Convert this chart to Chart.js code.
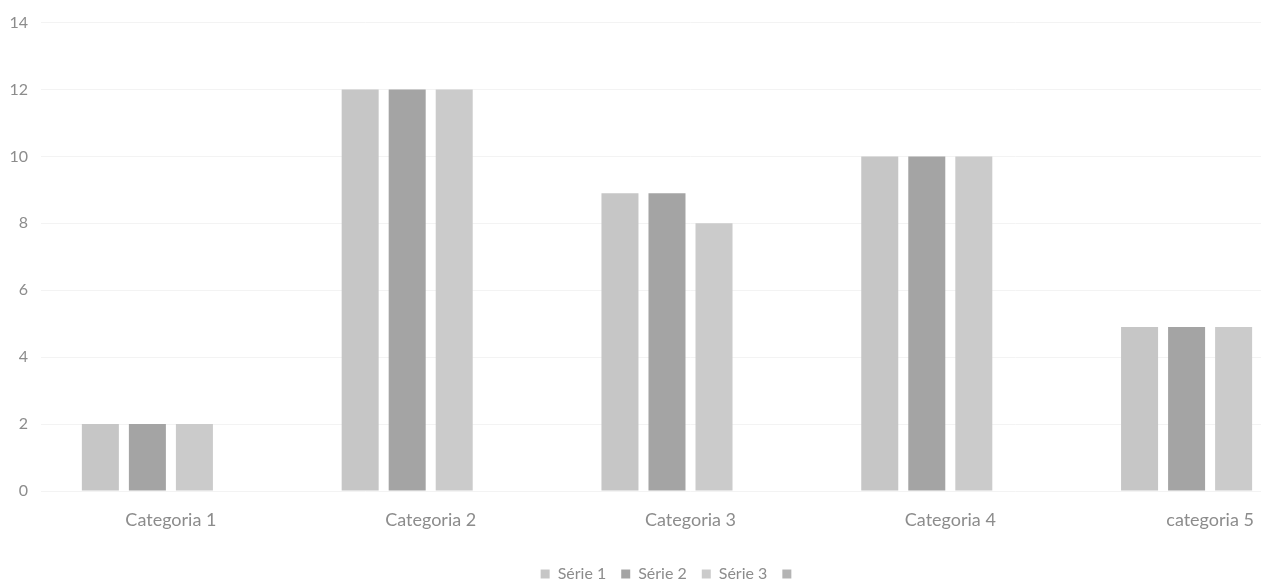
<!DOCTYPE html>
<html>
<head>
<meta charset="utf-8">
<script src="https://cdn.jsdelivr.net/npm/chart.js@4/dist/chart.umd.min.js"></script>
<style>
  html, body { margin: 0; padding: 0; background: #fff; overflow: hidden; }
  #wrap { width: 1340px; height: 584px; position: relative; }
</style>
</head>
<body>
<div id="wrap"><canvas id="chart"></canvas></div>
<script>
// chart data
const categories = ['Categoria 1', 'Categoria 2', 'Categoria 3', 'Categoria 4', 'categoria 5'];
const seriesNames = ['Série 1', 'Série 2', 'Série 3', ''];
const serie1 = [2, 12, 8.9, 10, 4.9];
const serie2 = [2, 12, 8.9, 10, 4.9];
const serie3 = [2, 12, 8, 10, 4.9];
const serie4 = [null, null, null, null, null];
const yTicks = [0, 2, 4, 6, 8, 10, 12, 14];

const colors = ['#c6c6c6', '#a4a4a4', '#cbcbcb', '#b4b4b4'];
const textColor = '#8c8c8c';
const fontFamily = 'Lato, "Noto Sans", sans-serif';

const datasets = [serie1, serie2, serie3, serie4].map((values, i) => ({
    label: seriesNames[i],
    data: values,
    backgroundColor: colors[i],
    borderWidth: 0,
    categoryPercentage: 0.724,
    barPercentage: 0.787
}));

new Chart(document.getElementById('chart'), {
    type: 'bar',
    data: { labels: categories, datasets: datasets },
    options: {
        responsive: true,
        maintainAspectRatio: false,
        animation: false,
        layout: { padding: { top: 20, right: 0, left: 0, bottom: -8 } },
        scales: {
            x: {
                grid: { display: false },
                border: { display: false },
                ticks: {
                    color: textColor,
                    font: { family: fontFamily, size: 18 },
                    padding: 10,
                    maxRotation: 0
                },
                afterFit: function(scale) { scale.height = 60; }
            },
            y: {
                min: 0,
                max: 14,
                afterBuildTicks: function(scale) {
                    scale.ticks = yTicks.map(v => ({ value: v }));
                },
                grid: { color: '#f3f3f3', drawTicks: false },
                border: { display: false },
                ticks: {
                    color: textColor,
                    font: { family: fontFamily, size: 16 },
                    padding: 13
                },
                afterFit: function(scale) { scale.width = 41; }
            }
        },
        plugins: {
            legend: {
                position: 'bottom',
                labels: {
                    boxWidth: 9,
                    boxHeight: 9,
                    padding: 15,
                    color: textColor,
                    font: { family: fontFamily, size: 16 }
                }
            },
            tooltip: { enabled: false }
        }
    }
});
</script>
</body>
</html>
